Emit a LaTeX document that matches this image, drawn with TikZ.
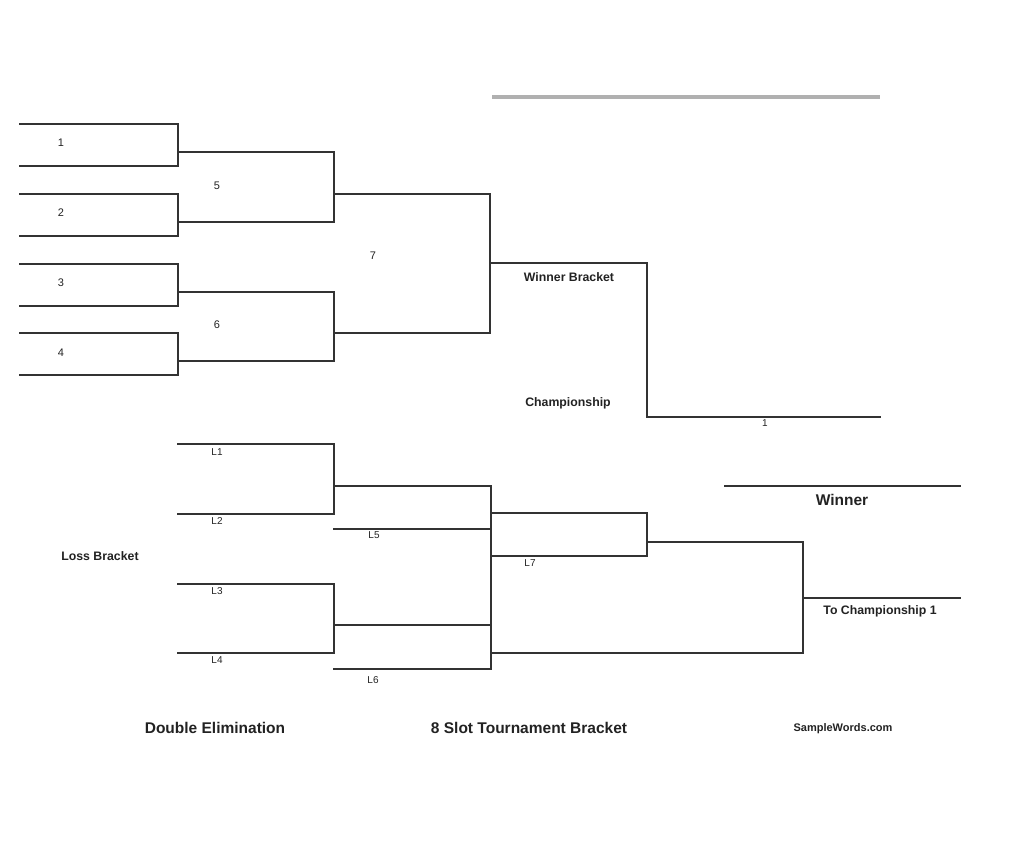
\documentclass[tikz,border=0pt]{standalone}
\usepackage{fontspec}
\setmainfont{Liberation Sans}
\definecolor{ink}{HTML}{333333}
\definecolor{txt}{HTML}{222222}
\definecolor{lite}{HTML}{B0B0B0}
\tikzset{
  br/.style={draw=ink, line width=2.6pt, line cap=rect},
  toprule/.style={draw=lite, line width=3.2pt},
  num/.style={text=txt, font=\fontsize{11}{13}\selectfont, inner sep=0pt},
  lbl/.style={text=txt, font=\fontsize{10}{12}\selectfont, inner sep=0pt},
  head/.style={text=txt, font=\bfseries\fontsize{12.3}{14}\selectfont, inner sep=0pt},
  big/.style={text=txt, font=\bfseries\fontsize{15.5}{18}\selectfont, inner sep=0pt},
}
\begin{document}
\begin{tikzpicture}[x=1pt,y=-1pt]
\useasboundingbox (0,0) rectangle (1024,865);
% ---------- Winner bracket: round 1
\coordinate (a1) at (20,124);  \coordinate (a1r) at (178,124);
\coordinate (b1) at (20,166);  \coordinate (b1r) at (178,166);
\coordinate (a2) at (20,194);  \coordinate (a2r) at (178,194);
\coordinate (b2) at (20,236);  \coordinate (b2r) at (178,236);
\coordinate (a3) at (20,264);  \coordinate (a3r) at (178,264);
\coordinate (b3) at (20,306);  \coordinate (b3r) at (178,306);
\coordinate (a4) at (20,333);  \coordinate (a4r) at (178,333);
\coordinate (b4) at (20,375);  \coordinate (b4r) at (178,375);
\draw[br] (a1) -- (a1r) -- (b1r) -- (b1);
\draw[br] (a2) -- (a2r) -- (b2r) -- (b2);
\draw[br] (a3) -- (a3r) -- (b3r) -- (b3);
\draw[br] (a4) -- (a4r) -- (b4r) -- (b4);
% round 2
\coordinate (c5) at (178,152); \coordinate (c5r) at (334,152);
\coordinate (d5) at (178,222); \coordinate (d5r) at (334,222);
\coordinate (c6) at (178,292); \coordinate (c6r) at (334,292);
\coordinate (d6) at (178,361); \coordinate (d6r) at (334,361);
\draw[br] (c5) -- (c5r) -- (d5r) -- (d5);
\draw[br] (c6) -- (c6r) -- (d6r) -- (d6);
% round 3
\coordinate (e7) at (334,194); \coordinate (e7r) at (490,194);
\coordinate (f7) at (334,333); \coordinate (f7r) at (490,333);
\draw[br] (e7) -- (e7r) -- (f7r) -- (f7);
% to championship
\coordinate (g1) at (490,263); \coordinate (g1r) at (647,263);
\coordinate (g2) at (647,417); \coordinate (g3) at (880,417);
\draw[br] (g1) -- (g1r) -- (g2) -- (g3);
% top line
\coordinate (t1) at (492,97); \coordinate (t2) at (880,97);
\draw[toprule] (t1) -- (t2);
% labels winner bracket
\node[num] (n1) at (61,143) {1};
\node[num] (n2) at (61,213) {2};
\node[num] (n3) at (61,283) {3};
\node[num] (n4) at (61,353) {4};
\node[num] (n5) at (217,186) {5};
\node[num] (n6) at (217,325) {6};
\node[num] (n7) at (373,256) {7};
\node[head] (wb) at (569,277) {Winner Bracket};
\node[head] (ch) at (568,403) {Championship};
\node[lbl] (c1) at (765,423) {1};
% ---------- Loss bracket
\coordinate (l1) at (178,444); \coordinate (l1r) at (334,444);
\coordinate (l2) at (178,514); \coordinate (l2r) at (334,514);
\coordinate (l3) at (178,584); \coordinate (l3r) at (334,584);
\coordinate (l4) at (178,653); \coordinate (l4r) at (334,653);
\draw[br] (l1) -- (l1r) -- (l2r) -- (l2);
\draw[br] (l3) -- (l3r) -- (l4r) -- (l4);
\coordinate (m1) at (334,486); \coordinate (m1r) at (491,486);
\coordinate (m5) at (334,529); \coordinate (m5r) at (491,529);
\coordinate (m2) at (334,625); \coordinate (m2r) at (491,625);
\coordinate (m6) at (334,669); \coordinate (m6r) at (491,669);
\draw[br] (m1) -- (m1r);
\draw[br] (m5) -- (m5r);
\draw[br] (m2) -- (m2r);
\draw[br] (m6) -- (m6r);
\draw[br] (m1r) -- (m6r);
\coordinate (p1) at (491,513); \coordinate (p1r) at (647,513);
\coordinate (p2) at (491,556); \coordinate (p2r) at (647,556);
\draw[br] (p1) -- (p1r) -- (p2r) -- (p2);
\coordinate (q1) at (647,542); \coordinate (q1r) at (803,542);
\coordinate (q2) at (491,653); \coordinate (q2r) at (803,653);
\draw[br] (q1) -- (q1r) -- (q2r) -- (q2);
\coordinate (r1) at (803,598); \coordinate (r2) at (960,598);
\draw[br] (r1) -- (r2);
\coordinate (w1) at (725,486); \coordinate (w2) at (960,486);
\draw[br] (w1) -- (w2);
% labels loss bracket
\node[lbl] (L1) at (217,452) {L1};
\node[lbl] (L2) at (217,521) {L2};
\node[lbl] (L3) at (217,591) {L3};
\node[lbl] (L4) at (217,660) {L4};
\node[lbl] (L5) at (374,535) {L5};
\node[lbl] (L6) at (373,680) {L6};
\node[lbl] (L7) at (530,563) {L7};
\node[head] (lb) at (100,556) {Loss Bracket};
\node[text=txt, font=\bfseries\fontsize{15.5}{18}\selectfont, inner sep=0pt] (win) at (842,500) {Winner};
\node[head] (tc) at (880,611) {To Championship 1};
% footer
\node[big] (de) at (215,728) {Double Elimination};
\node[big] (st) at (529,728) {8 Slot Tournament Bracket};
\node[text=txt, font=\bfseries\fontsize{11}{13}\selectfont, inner sep=0pt] (sw) at (843,729) {SampleWords.com};
\end{tikzpicture}
\end{document}
